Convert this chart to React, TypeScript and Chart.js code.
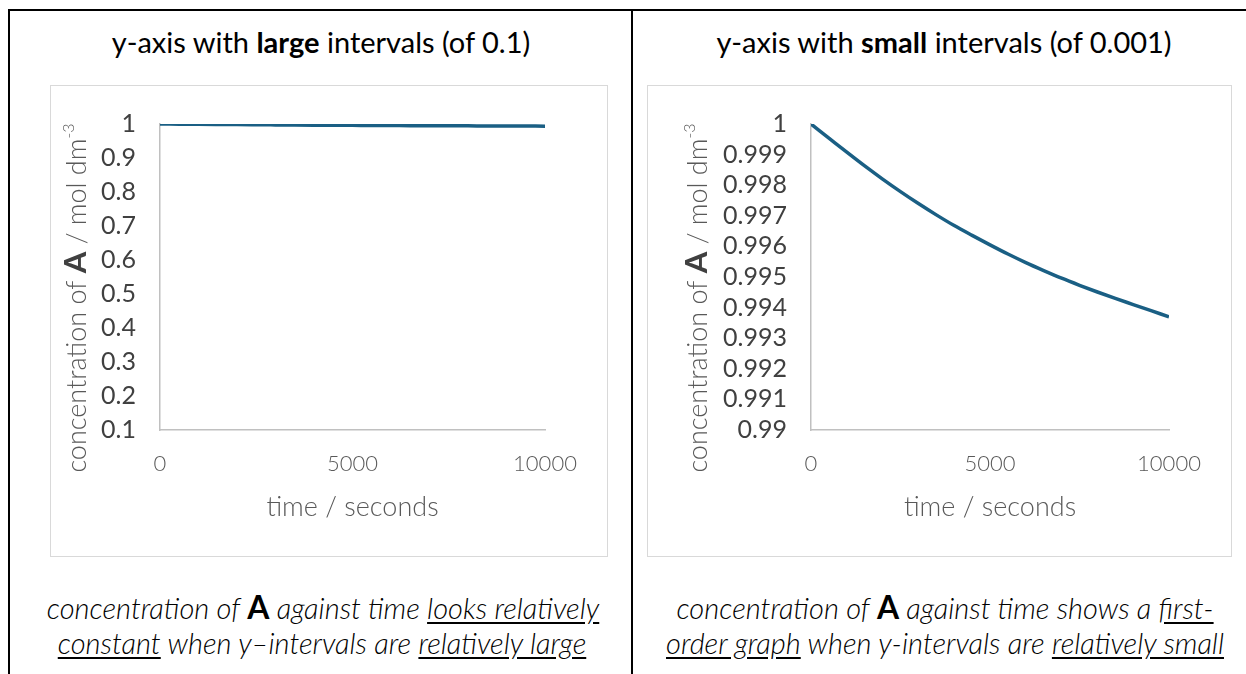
import React, { useEffect, useRef } from 'react';
import { Chart, registerables } from 'chart.js';

Chart.register(...registerables);

// ---- data ----
const TIME_S = [0, 500, 1000, 1500, 2000, 2500, 3000, 3500, 4000, 4500, 5000, 5500, 6000, 6500, 7000, 7500, 8000, 8500, 9000, 9500, 10000];
const CONC_A = [1.0, 0.99954, 0.99908, 0.99863, 0.9982, 0.99779, 0.9974, 0.99703, 0.99668, 0.99636, 0.99605, 0.99575, 0.99547, 0.99521, 0.99496, 0.99473, 0.99451, 0.9943, 0.9941, 0.9939, 0.9937];
const X_TICKS = [0, 5000, 10000];
const Y_TICKS_LARGE = [0.1, 0.2, 0.3, 0.4, 0.5, 0.6, 0.7, 0.8, 0.9, 1];
const Y_TICKS_SMALL = [0.99, 0.991, 0.992, 0.993, 0.994, 0.995, 0.996, 0.997, 0.998, 0.999, 1];

const X_TITLE = 'time / seconds';
const Y_TITLE_PARTS = ['concentration of ', 'A', ' / mol dm', '-3'];

const FONT = 'Lato, "Open Sans", "DejaVu Sans", sans-serif';
const LINE_COLOR = '#1a5f84';
const AXIS_COLOR = '#c0c0c0';
const TEXT_GREY = '#595959';

function richYTitle(baselineX: number, centerY: number) {
  return {
    id: 'richYTitle',
    afterDraw(chart: any) {
      const ctx = chart.ctx as CanvasRenderingContext2D;
      const parts = [
        { t: Y_TITLE_PARTS[0], f: `300 27px ${FONT}`, c: TEXT_GREY, dy: 0, w: 0 },
        { t: Y_TITLE_PARTS[1], f: `bold 31px ${FONT}`, c: '#404040', dy: 0, w: 0 },
        { t: Y_TITLE_PARTS[2], f: `300 27px ${FONT}`, c: TEXT_GREY, dy: 0, w: 0 },
        { t: Y_TITLE_PARTS[3], f: `300 16px ${FONT}`, c: TEXT_GREY, dy: -12, w: 0 },
      ];
      ctx.save();
      let total = 0;
      for (const p of parts) {
        ctx.font = p.f;
        p.w = ctx.measureText(p.t).width;
        total += p.w;
      }
      ctx.translate(baselineX, centerY);
      ctx.rotate(-Math.PI / 2);
      ctx.textAlign = 'left';
      ctx.textBaseline = 'alphabetic';
      let x = -total / 2;
      for (const p of parts) {
        ctx.font = p.f;
        ctx.fillStyle = p.c;
        ctx.fillText(p.t, x, p.dy);
        x += p.w;
      }
      ctx.restore();
    },
  };
}

type ChartProps = {
  left: number;
  top: number;
  width: number;
  height: number;
  yTicks: number[];
  yAxisWidth: number;
  titleBaselineX: number;
};

function ConcChart({ left, top, width, height, yTicks, yAxisWidth, titleBaselineX }: ChartProps) {
  const ref = useRef<HTMLCanvasElement>(null);
  useEffect(() => {
    if (!ref.current) return;
    const yMin = yTicks[0];
    const yMax = yTicks[yTicks.length - 1];
    const chart = new Chart(ref.current, {
      type: 'line',
      data: {
        datasets: [
          {
            data: TIME_S.map((t, i) => ({ x: t, y: CONC_A[i] })),
            borderColor: LINE_COLOR,
            borderWidth: 3.5,
            pointRadius: 0,
            cubicInterpolationMode: 'monotone',
            fill: false,
          },
        ],
      },
      options: {
        responsive: false,
        animation: false,
        devicePixelRatio: 1,
        layout: { padding: { left: 0, right: 63, top: 32, bottom: 0 } },
        plugins: { legend: { display: false }, tooltip: { enabled: false }, title: { display: false } },
        scales: {
          x: {
            type: 'linear',
            min: X_TICKS[0],
            max: X_TICKS[X_TICKS.length - 1],
            afterBuildTicks: (s: any) => {
              s.ticks = X_TICKS.map((v) => ({ value: v }));
            },
            afterFit: (s: any) => {
              s.height = 127;
            },
            grid: { display: true, drawOnChartArea: false, drawTicks: false },
            border: { display: true, color: AXIS_COLOR, width: 1.5 },
            ticks: {
              padding: 21,
              autoSkip: false,
              maxRotation: 0,
              color: TEXT_GREY,
              font: { family: FONT, size: 22, weight: '300' },
              callback: (v: any) => String(v),
            },
            title: {
              display: true,
              text: X_TITLE,
              color: TEXT_GREY,
              font: { family: FONT, size: 27, weight: '300' },
              padding: { top: 0, bottom: 34 },
            },
          },
          y: {
            type: 'linear',
            min: yMin,
            max: yMax,
            afterBuildTicks: (s: any) => {
              s.ticks = yTicks.map((v) => ({ value: v }));
            },
            afterFit: (s: any) => {
              s.width = yAxisWidth;
            },
            grid: { display: true, drawOnChartArea: false, drawTicks: false },
            border: { display: true, color: AXIS_COLOR, width: 1.5 },
            ticks: {
              padding: 24,
              autoSkip: false,
              color: '#404040',
              font: { family: FONT, size: 25, weight: 'normal' },
              callback: (v: any) => String(v),
            },
          },
        },
      } as any,
      plugins: [richYTitle(titleBaselineX, 213)],
    });
    return () => chart.destroy();
  }, []);
  return (
    <>
      <canvas
        ref={ref}
        width={width}
        height={height}
        style={{ position: 'absolute', left, top, width, height }}
      />
      <div
        style={{
          position: 'absolute',
          left,
          top,
          width,
          height,
          boxSizing: 'border-box',
          border: '1.5px solid #d9d9d9',
          pointerEvents: 'none',
        }}
      />
    </>
  );
}

const textBase: React.CSSProperties = {
  position: 'absolute',
  textAlign: 'center',
  whiteSpace: 'nowrap',
  fontFamily: FONT,
  color: '#000',
};

function Line({ cx, cy, size, italic, weight, children }: any) {
  const w = 700;
  return (
    <div
      style={{
        ...textBase,
        left: cx - w / 2,
        top: cy - 20,
        width: w,
        height: 40,
        lineHeight: '40px',
        fontSize: size,
        fontStyle: italic ? 'italic' : 'normal',
        fontWeight: weight ?? 400,
      }}
    >
      {children}
    </div>
  );
}

const U = ({ children }: any) => <span style={{ textDecoration: 'underline', textUnderlineOffset: '3px' }}>{children}</span>;
const BigA = () => <span style={{ fontStyle: 'normal', fontWeight: 'bold', fontSize: '1.1em' }}>A</span>;

export default function App() {
  return (
    <div style={{ position: 'fixed', left: 0, top: 0, width: 1246, height: 674, background: '#fff', overflow: 'hidden' }}>
      {/* table borders */}
      <div style={{ position: 'absolute', left: 8, top: 9, width: 1250, height: 2, background: '#000' }} />
      <div style={{ position: 'absolute', left: 8, top: 9, width: 2, height: 670, background: '#000' }} />
      <div style={{ position: 'absolute', left: 631, top: 9, width: 2, height: 670, background: '#000' }} />

      <Line cx={321} cy={42} size={29}>
        y-axis with <span style={{ fontWeight: 'bold' }}>large</span> intervals (of 0.1)
      </Line>
      <Line cx={944} cy={42} size={29}>
        y-axis with <span style={{ fontWeight: 'bold' }}>small</span> intervals (of 0.001)
      </Line>

      <ConcChart left={50} top={85} width={558} height={472} yTicks={Y_TICKS_LARGE} yAxisWidth={110} titleBaselineX={36} />
      <ConcChart left={647} top={85} width={585} height={472} yTicks={Y_TICKS_SMALL} yAxisWidth={164} titleBaselineX={60} />

      <Line cx={323} cy={607} size={29} italic weight={300}>
        concentration of <BigA /> against time <U>looks relatively</U>
      </Line>
      <Line cx={322} cy={643} size={29} italic weight={300}>
        <U>constant</U> when y–intervals are <U>relatively large</U>
      </Line>
      <Line cx={945} cy={607} size={29} italic weight={300}>
        concentration of <BigA /> against time shows a <U>first-</U>
      </Line>
      <Line cx={945} cy={643} size={29} italic weight={300}>
        <U>order graph</U> when y-intervals are <U>relatively small</U>
      </Line>
    </div>
  );
}
